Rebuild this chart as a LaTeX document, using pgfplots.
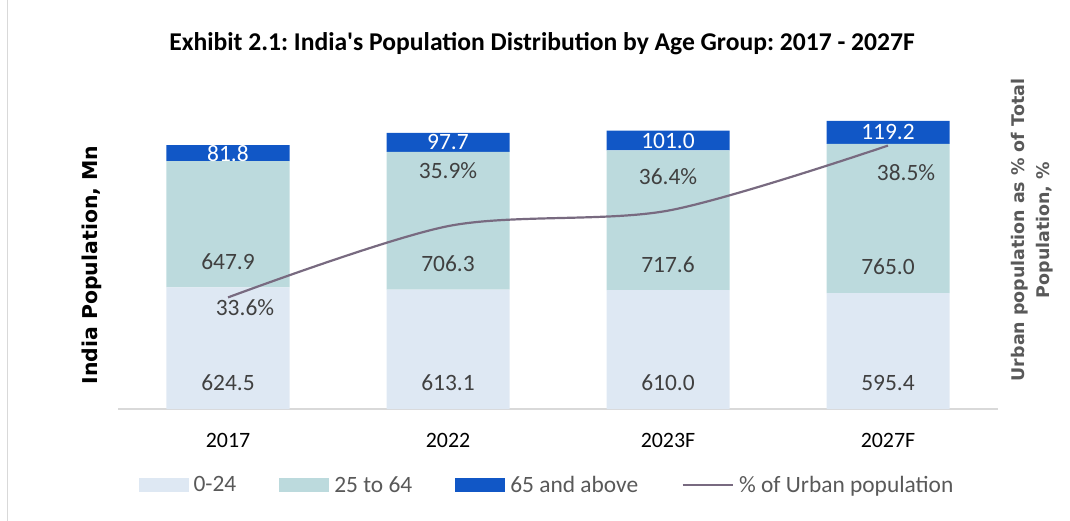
\documentclass[border=0pt]{standalone}
\usepackage{fontspec}
\setmainfont{Carlito}
\newfontfamily\titlefont{Carlito}[Ligatures=TeXOff]
\newfontfamily\vfont{DejaVu Sans}
\usepackage{pgfplots}
\pgfplotsset{compat=1.18}
\usetikzlibrary{calc}
\definecolor{young}{HTML}{DEE8F3}
\definecolor{mid}{HTML}{BCDADD}
\definecolor{old}{HTML}{1157C6}
\definecolor{urban}{HTML}{786A80}
\definecolor{basegray}{HTML}{D9D9D9}
\definecolor{txt}{HTML}{404040}
\definecolor{lgtxt}{HTML}{595959}
\pgfplotsset{
    swatch/.style={legend image code/.code={\fill[##1] (0bp,-7bp) rectangle (50bp,7bp);}},
    lineleg/.style={legend image code/.code={\draw[##1] (0bp,0bp) -- (50bp,0bp);}},
    frame/.style={scale only axis, width=880bp, height=300bp, xmin=-0.5, xmax=3.5, clip=false},
}
\frenchspacing
\newcommand{\lbl}{\fontsize{23.5}{27}\selectfont}
\begin{document}
\begin{tikzpicture}
\begin{axis}[
    name=main, frame,
    ymin=0, ymax=1540,
    ybar stacked, bar width=123bp,
    axis x line*=bottom, axis y line=none,
    x axis line style={draw=basegray, line width=1.5bp, -},
    xtick={0,1,2,3}, xticklabels={2017,2022,2023F,2027F},
    major tick length=0pt,
    xticklabel style={font=\fontsize{22}{26}\selectfont, text=black, yshift=-21bp},
    legend columns=4,
    legend cell align=left,
    legend style={at={(0.4875,-0.253)}, anchor=center, draw=none, fill=none,
        font=\fontsize{23.5}{27}\selectfont\color{lgtxt},
        /tikz/every odd column/.append style={column sep=3bp},
        /tikz/every even column/.append style={column sep=41bp}},
]
\addplot[fill=young, draw=none, swatch]
    coordinates {(0,624.5) (1,613.1) (2,610.0) (3,595.4)};
\addplot[fill=mid, draw=none, swatch]
    coordinates {(0,647.9) (1,706.3) (2,717.6) (3,765.0)};
\addplot[fill=old, draw=none, swatch]
    coordinates {(0,81.8) (1,97.7) (2,101.0) (3,119.2)};
\addlegendimage{urban, line width=2.8bp, lineleg}
\legend{0-24, 25 to 64, 65 and above, \% of Urban population}
\end{axis}
% bar value labels, same scale as the bars
\begin{axis}[at={(main.south west)}, anchor=south west, frame, ymin=0, ymax=1540, hide axis]
\node[txt, font=\lbl] at (axis cs:0,133) {624.5};
\node[txt, font=\lbl] at (axis cs:1,133) {613.1};
\node[txt, font=\lbl] at (axis cs:2,133) {610.0};
\node[txt, font=\lbl] at (axis cs:3,133) {595.4};
\node[txt, font=\lbl] at (axis cs:0,757.5) {647.9};
\node[txt, font=\lbl] at (axis cs:1,746.1) {706.3};
\node[txt, font=\lbl] at (axis cs:2,743.0) {717.6};
\node[txt, font=\lbl] at (axis cs:3,728.4) {765.0};
\node[white, font=\lbl] at (axis cs:0,1313.3) {81.8};
\node[white, font=\lbl] at (axis cs:1,1368.2) {97.7};
\node[white, font=\lbl] at (axis cs:2,1378.1) {101.0};
\node[white, font=\lbl] at (axis cs:3,1420.0) {119.2};
\end{axis}
% urban share, secondary scale
\begin{axis}[at={(main.south west)}, anchor=south west, frame, ymin=30, ymax=39.68, hide axis]
\addplot[urban, line width=2.2bp, smooth, tension=0.5] coordinates {(0,33.6) (1,35.9) (2,36.4) (3,38.5)};
\node[txt, font=\lbl] at (axis cs:0,33.6) [xshift=17bp, yshift=-10bp] {33.6\%};
\node[txt, font=\lbl] at (axis cs:1,35.9) [yshift=56bp] {35.9\%};
\node[txt, font=\lbl] at (axis cs:2,36.4) [yshift=34bp] {36.4\%};
\node[txt, font=\lbl] at (axis cs:3,38.5) [xshift=18bp, yshift=-27bp] {38.5\%};
\end{axis}
% title and axis labels
\node[font=\titlefont\fontsize{25.7}{30}\selectfont\bfseries, text=black]
    at ($(main.south west)+(424bp,365bp)$) {Exhibit 2.1: India's Population Distribution by Age Group: 2017 - 2027F};
\node[font=\vfont\fontsize{20.5}{24}\selectfont\bfseries, text=black, rotate=90]
    at ($(main.south west)+(-26bp,144bp)$) {India Population, Mn};
\node[font=\vfont\fontsize{17.5}{25}\selectfont\bfseries, text=lgtxt, rotate=90, align=center]
    at ($(main.south west)+(914bp,179bp)$) {Urban population as \% of Total\\Population, \%};
\draw[basegray, line width=1bp] ($(main.south west)+(-110bp,-112bp)$) -- ++(0,521bp);
\pgfresetboundingbox
\path[use as bounding box] ($(main.south west)+(-118bp,-112bp)$) rectangle ++(1070bp,521bp);
\end{tikzpicture}
\end{document}
